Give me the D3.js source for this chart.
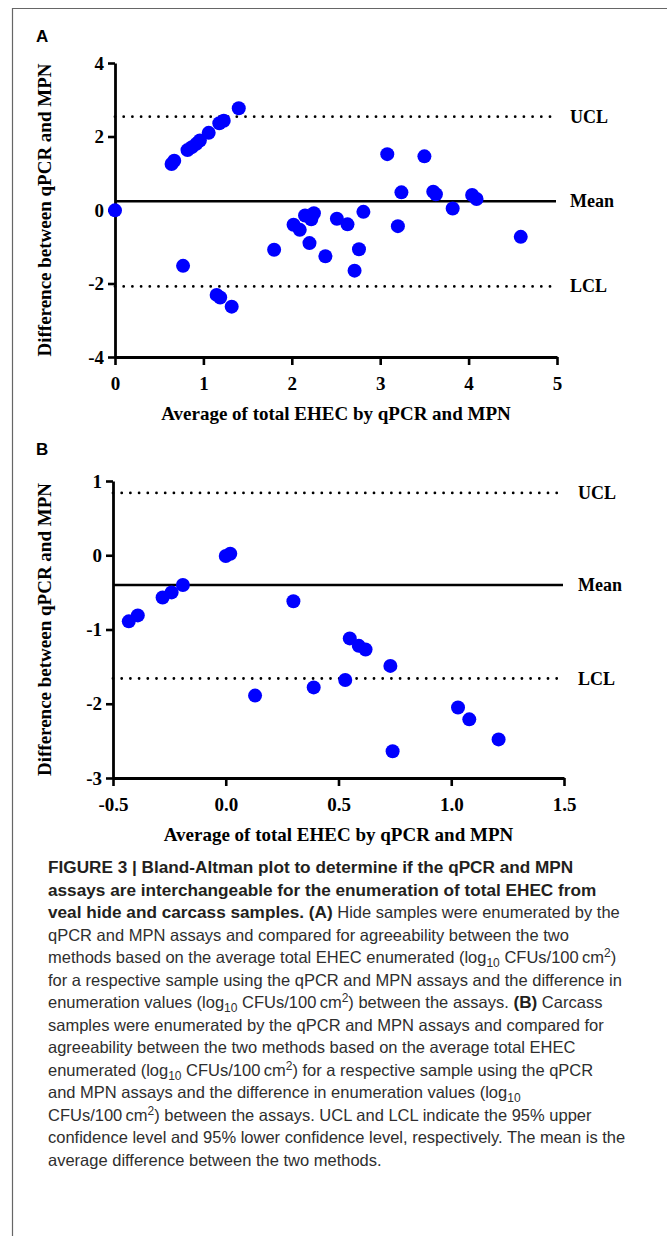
<!DOCTYPE html>
<html>
<head>
<meta charset="utf-8">
<script src="https://cdn.jsdelivr.net/npm/d3@7"></script>
<style>
  body { margin: 0; background: #fff; }
  svg { display: block; }
</style>
</head>
<body>
<div id="chart"></div>
<script>
const W = 667, H = 1236;

// Panel A: hide samples
const hideAvg  = [0, 0.64, 0.67, 0.82, 0.87, 0.92, 0.96, 1.06, 1.18, 1.23, 1.40, 0.77, 1.15, 1.19, 1.32,
                  1.80, 2.02, 2.09, 2.15, 2.22, 2.25, 2.20, 2.38, 2.51, 2.63, 2.81, 2.76, 2.71,
                  3.08, 3.50, 3.24, 3.20, 3.60, 3.63, 3.82, 4.04, 4.09, 4.59];
const hideDiff = [-0.01, 1.25, 1.34, 1.63, 1.71, 1.80, 1.89, 2.10, 2.36, 2.43, 2.77, -1.52, -2.31, -2.38, -2.63,
                  -1.08, -0.40, -0.54, -0.15, -0.25, -0.09, -0.90, -1.26, -0.24, -0.39, -0.05, -1.07, -1.65,
                  1.52, 1.46, 0.48, -0.44, 0.50, 0.43, 0.04, 0.41, 0.30, -0.73];
const hideLines = { ucl: 2.54, mean: 0.24, lcl: -2.08 };
const hideXTicks = [0, 1, 2, 3, 4, 5];
const hideYTicks = [-4, -2, 0, 2, 4];

// Panel B: carcass samples
const carcassAvg  = [-0.43, -0.39, -0.28, -0.24, -0.19, 0.0, 0.02, 0.30, 0.13, 0.39, 0.53, 0.55,
                     0.59, 0.62, 0.73, 0.74, 1.03, 1.08, 1.21];
const carcassDiff = [-0.89, -0.81, -0.57, -0.50, -0.40, -0.01, 0.02, -0.62, -1.89, -1.78, -1.68, -1.12,
                     -1.22, -1.27, -1.49, -2.64, -2.05, -2.21, -2.48];
const carcassLines = { ucl: 0.84, mean: -0.40, lcl: -1.66 };
const carcassXTicks = [-0.5, 0.0, 0.5, 1.0, 1.5];
const carcassYTicks = [-3, -2, -1, 0, 1];

const lineLabels = { ucl: "UCL", mean: "Mean", lcl: "LCL" };
const xTitle = "Average of total EHEC by qPCR and MPN";
const yTitle = "Difference between qPCR and MPN";

const serif = "'Liberation Serif', 'Times New Roman', serif";
const sans = "'Liberation Sans', Arial, sans-serif";

// plain hyphen instead of d3's unicode minus
const hy = f => d => f(d).replace("\u2212", "-");

const svg = d3.select("#chart").append("svg").attr("width", W).attr("height", H);

// figure frame
svg.append("path")
  .attr("d", `M${W + 2},8.5H12.5V${H + 2}`)
  .attr("fill", "none").attr("stroke", "#666").attr("stroke-width", 1.2);

function panel(o) {
  const x = d3.scaleLinear().domain(o.xDomain).range([o.left, o.right]);
  const y = d3.scaleLinear().domain(o.yDomain).range([o.bottom, o.top]);
  const g = svg.append("g");

  g.append("text").attr("x", 36).attr("y", o.letterY)
    .attr("font-family", sans).attr("font-weight", "bold").attr("font-size", 17)
    .text(o.letter);

  // reference lines
  ["ucl", "mean", "lcl"].forEach(k => {
    const v = o.lines[k];
    g.append("line")
      .attr("x1", x(o.xDomain[0])).attr("x2", o.lineEnd)
      .attr("y1", y(v)).attr("y2", y(v))
      .attr("stroke", "#000")
      .attr("stroke-width", k === "mean" ? 2.6 : 2.8)
      .attr("stroke-linecap", k === "mean" ? "butt" : "round")
      .attr("stroke-dasharray", k === "mean" ? null : "0,8.7");
    g.append("text")
      .attr("x", o.labelX).attr("y", y(v) + 6)
      .attr("font-family", serif).attr("font-weight", "bold").attr("font-size", 18)
      .text(lineLabels[k]);
  });

  // axes
  const xa = g.append("g").attr("transform", `translate(0,${o.bottom})`)
    .call(d3.axisBottom(x).tickValues(o.xTicks).tickFormat(hy(o.xFmt)).tickSize(8).tickSizeOuter(0));
  const ya = g.append("g").attr("transform", `translate(${o.left},0)`)
    .call(d3.axisLeft(y).tickValues(o.yTicks).tickFormat(hy(d3.format("d"))).tickSize(7).tickSizeOuter(0));
  [xa, ya].forEach(a => {
    a.select(".domain").attr("stroke-width", 2.8).attr("stroke", "#000");
    a.selectAll(".tick line").attr("stroke-width", 2.6).attr("stroke", "#000");
    a.selectAll(".tick text").attr("font-family", serif).attr("font-weight", "bold")
      .attr("font-size", 19).attr("fill", "#000");
  });
  xa.selectAll(".tick text").attr("dy", "1.15em");
  ya.selectAll(".tick text").attr("dx", "-0.05em");

  // points
  g.append("g").selectAll("circle")
    .data(o.xs.map((v, i) => [v, o.ys[i]]))
    .join("circle")
    .attr("cx", d => x(d[0])).attr("cy", d => y(d[1]))
    .attr("r", 7).attr("fill", "#0000ff");

  // titles
  g.append("text")
    .attr("x", (o.left + o.right) / 2).attr("y", o.bottom + 63)
    .attr("text-anchor", "middle")
    .attr("font-family", serif).attr("font-weight", "bold").attr("font-size", 19)
    .text(xTitle);
  g.append("text")
    .attr("transform", `translate(${44},${(o.top + o.bottom) / 2}) rotate(-90)`)
    .attr("text-anchor", "middle").attr("dy", "0.35em")
    .attr("font-family", serif).attr("font-weight", "bold").attr("font-size", 19)
    .text(yTitle);
}

panel({
  letter: "A", letterY: 42,
  xs: hideAvg, ys: hideDiff, lines: hideLines,
  xDomain: [0, 5], yDomain: [-4, 4],
  xTicks: hideXTicks, yTicks: hideYTicks, xFmt: d3.format("d"),
  left: 115, right: 557, top: 63, bottom: 357,
  lineEnd: 556, labelX: 570
});

panel({
  letter: "B", letterY: 455,
  xs: carcassAvg, ys: carcassDiff, lines: carcassLines,
  xDomain: [-0.5, 1.5], yDomain: [-3, 1],
  xTicks: carcassXTicks, yTicks: carcassYTicks, xFmt: d3.format(".1f"),
  left: 113, right: 564, top: 481, bottom: 778,
  lineEnd: 563, labelX: 578
});

// caption
const caption = [
  [["FIGURE 3 | Bland-Altman plot to determine if the qPCR and MPN", "b"]],
  [["assays are interchangeable for the enumeration of total EHEC from", "b"]],
  [["veal hide and carcass samples. (A)", "b"], [" Hide samples were enumerated by the", "n"]],
  [["qPCR and MPN assays and compared for agreeability between the two", "n"]],
  [["methods based on the average total EHEC enumerated (log", "n"], ["10", "sub"], [" CFUs/100\u2009cm", "n"], ["2", "sup"], [")", "n"]],
  [["for a respective sample using the qPCR and MPN assays and the difference in", "n"]],
  [["enumeration values (log", "n"], ["10", "sub"], [" CFUs/100\u2009cm", "n"], ["2", "sup"], [") between the assays. ", "n"], ["(B)", "b"], [" Carcass", "n"]],
  [["samples were enumerated by the qPCR and MPN assays and compared for", "n"]],
  [["agreeability between the two methods based on the average total EHEC", "n"]],
  [["enumerated (log", "n"], ["10", "sub"], [" CFUs/100\u2009cm", "n"], ["2", "sup"], [") for a respective sample using the qPCR", "n"]],
  [["and MPN assays and the difference in enumeration values (log", "n"], ["10", "sub"]],
  [["CFUs/100\u2009cm", "n"], ["2", "sup"], [") between the assays. UCL and LCL indicate the 95% upper", "n"]],
  [["confidence level and 95% lower confidence level, respectively. The mean is the", "n"]],
  [["average difference between the two methods.", "n"]]
];

const cap = svg.append("g").attr("font-family", sans);
caption.forEach((segs, i) => {
  const t = cap.append("text").attr("x", 48).attr("y", 873 + i * 22.5).attr("font-size", 16.5);
  segs.forEach(([s, k]) => {
    const ts = t.append("tspan").text(s);
    if (k === "b") ts.attr("font-weight", 700).attr("font-size", 17.2).attr("fill", "#231f20");
    else ts.attr("font-weight", 400).attr("fill", "#2e2e2e");
    if (k === "sub") ts.attr("font-size", 12).attr("baseline-shift", "-4");
    if (k === "sup") ts.attr("font-size", 12).attr("baseline-shift", "6");
  });
});
</script>
</body>
</html>
